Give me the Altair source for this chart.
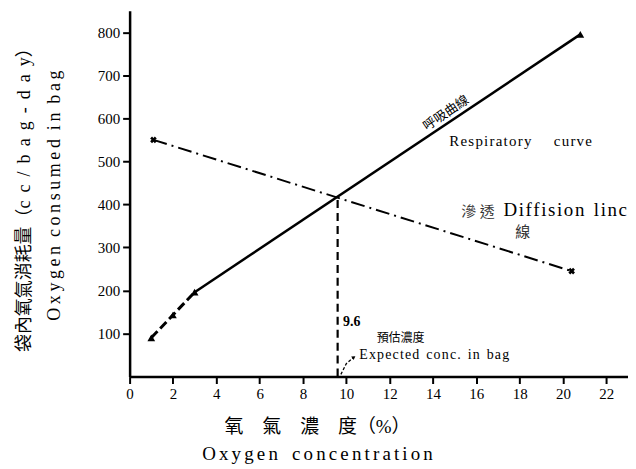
import altair as alt
import pandas as pd

# Respiratory curve (triangles)
resp_x = [1.0, 2.0, 3.0, 20.8]
resp_y = [90, 143, 196, 795]
# Diffusion line (crosses)
diff_x = [1.1, 20.4]
diff_y = [550, 245]
# Estimated intersection
est_x = [9.6]
est_y = [417]

x_ticks = [0, 2, 4, 6, 8, 10, 12, 14, 16, 18, 20, 22]
y_ticks = [100, 200, 300, 400, 500, 600, 700, 800]

SERIF = "'Liberation Serif', 'Noto Sans CJK TC', serif"
TS = "\u2009"   # thin space
SS = "\u2006"   # six-per-em space
HS = "\u200a"   # hair space
NB = "\u00a0"   # non-breaking space (not collapsed)


def spaced(s, sep=TS):
    return sep.join(list(s))


def words(ws, sep=TS, gap=NB * 2):
    return gap.join(spaced(w, sep) for w in ws)


x_title = ["氧\u3000氣\u3000濃\u3000度（%）", words(["Oxygen", "concentration"], SS, NB * 3)]
y_title = ["袋內氧氣消耗量（" + (NB + TS).join(list("cc/bag-day")) + "）",
           words(["Oxygen", "consumed", "in", "bag"], TS, NB * 2)]

resp = pd.DataFrame({"x": resp_x, "y": resp_y})
resp_dashed = resp.iloc[:3]
resp_solid = resp.iloc[2:]
diff = pd.DataFrame({"x": diff_x, "y": diff_y})
est = pd.DataFrame({"x": est_x, "y": est_y, "y0": [0]})

xs = alt.Scale(domain=[0, 23], nice=False, zero=False)
ys = alt.Scale(domain=[0, 850], nice=False, zero=False)

X = alt.X("x:Q", scale=xs, axis=alt.Axis(
    values=x_ticks, format="d", title=x_title, labelFont=SERIF, labelFontSize=15, titleFont=SERIF,
    titleX=188, titleY=41, titleBaseline="top", titleAnchor="middle", titleAlign="center",
    titleFontSize=19, titleLineHeight=27))
Y = alt.Y("y:Q", scale=ys, axis=alt.Axis(
    values=y_ticks, format="d", title=y_title, labelFont=SERIF, labelFontSize=15, titleFont=SERIF,
    titleX=-96, titleY=185, titleAngle=-90, titleAlign="center", titleBaseline="bottom",
    titleFontSize=18, titleLineHeight=30))

dashed = alt.Chart(resp_dashed).mark_line(color="black", strokeWidth=3, strokeDash=[9, 4]).encode(x=X, y=Y)
solid = alt.Chart(resp_solid).mark_line(color="black", strokeWidth=2.5).encode(x="x:Q", y="y:Q")
tri = alt.Chart(resp).mark_point(shape="triangle-up", filled=True, color="black", size=60, opacity=1).encode(x="x:Q", y="y:Q")
dline = alt.Chart(diff).mark_line(color="black", strokeWidth=2, strokeDash=[14, 5, 2, 5]).encode(x="x:Q", y="y:Q")
cross = alt.Chart(diff).mark_point(shape="cross", angle=45, filled=True, color="black", size=45, opacity=1).encode(x="x:Q", y="y:Q")
vline = alt.Chart(est).mark_rule(color="black", strokeWidth=2.2, strokeDash=[8, 5]).encode(x="x:Q", y="y0:Q", y2="y:Q")

# Annotations (data coordinates)
t_resp_cn = alt.Chart(pd.DataFrame({"x": [14.6], "y": [612], "t": ["呼吸曲線"]})).mark_text(
    font=SERIF, fontSize=13, angle=326, color="black").encode(x="x:Q", y="y:Q", text="t:N")
t_resp_en = alt.Chart(pd.DataFrame({"x": [14.75], "y": [548],
                                    "t": [spaced("Respiratory", HS) + "\u2003\u2002" + spaced("curve", HS)]})).mark_text(
    font=SERIF, fontSize=15, align="left", color="black").encode(x="x:Q", y="y:Q", text="t:N")
t_diff_en = alt.Chart(pd.DataFrame({"x": [17.25], "y": [386], "t": [words(["Diffision", "linc"], HS, NB * 2)]})).mark_text(
    font=SERIF, fontSize=19, align="left", color="black").encode(x="x:Q", y="y:Q", text="t:N")
t_diff_cn = alt.Chart(pd.DataFrame({"x": [15.3, 17.8], "y": [382, 336], "t": ["滲 透", "線"]})).mark_text(
    font=SERIF, fontSize=15, align="left", color="#333").encode(x="x:Q", y="y:Q", text="t:N")
t_96 = alt.Chart(pd.DataFrame({"x": [9.85], "y": [126], "t": ["9.6"]})).mark_text(
    font=SERIF, fontSize=14, align="left", fontWeight="bold", color="black").encode(x="x:Q", y="y:Q", text="t:N")
t_exp_cn = alt.Chart(pd.DataFrame({"x": [11.4], "y": [89], "t": ["預估濃度"]})).mark_text(
    font=SERIF, fontSize=12, align="left", color="black").encode(x="x:Q", y="y:Q", text="t:N")
t_exp_en = alt.Chart(pd.DataFrame({"x": [10.6], "y": [51],
                                   "t": [words(["Expected", "conc.", "in", "bag"], HS, NB * 2)]})).mark_text(
    font=SERIF, fontSize=14, align="left", color="black").encode(x="x:Q", y="y:Q", text="t:N")
arrow = alt.Chart(pd.DataFrame({"x": [9.75, 10.0, 10.35], "y": [5, 30, 45]})).mark_line(
    color="black", strokeWidth=1.3, strokeDash=[3, 2]).encode(x="x:Q", y="y:Q")
arrow_head = alt.Chart(pd.DataFrame({"x": [10.35], "y": [45]})).mark_point(
    shape="triangle-up", angle=55, filled=True, color="black", size=18, opacity=1).encode(x="x:Q", y="y:Q")

chart = alt.layer(
    dashed, solid, tri, dline, cross, vline,
    t_resp_cn, t_resp_en, t_diff_en, t_diff_cn, t_96, t_exp_cn, t_exp_en, arrow, arrow_head
).properties(
    width=500, height=367,
    autosize=alt.AutoSizeParams(type="none"),
    padding={"left": 122, "top": 2, "right": 0, "bottom": 90},
    background="white",
).configure_view(stroke=None).configure_axis(
    grid=False, domainColor="black", domainWidth=2.5, tickColor="black", tickWidth=2,
    tickSize=7, labelFont=SERIF, labelFontSize=15, labelColor="black", labelPadding=3,
    titleFont=SERIF, titleFontWeight="normal", titleColor="black", labelFlush=False,
)

chart.save("out.html", embed_options={"renderer": "svg", "actions": False})
